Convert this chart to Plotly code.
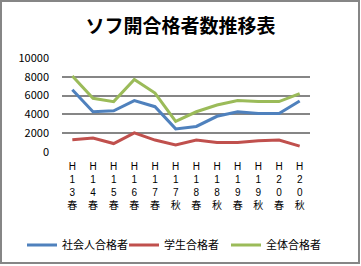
import plotly.graph_objects as go

categories = ["H13春", "H14春", "H15春", "H16春", "H17春", "H17秋",
              "H18春", "H18秋", "H19春", "H19秋", "H20春", "H20秋"]
shakaijin = [6630, 4280, 4380, 5470, 4820, 2460, 2720, 3800, 4280, 4100, 4100, 5430]
gakusei = [1300, 1490, 900, 2030, 1270, 760, 1270, 1010, 1010, 1200, 1270, 620]
zentai = [8080, 5720, 5360, 7720, 6270, 3260, 4280, 5000, 5470, 5360, 5360, 6200]
series_names = ["社会人合格者", "学生合格者", "全体合格者"]
colors = ["#4F81BD", "#C0504D", "#9BBB59"]
y_ticks = [0, 2000, 4000, 6000, 8000, 10000]
y_tick_labels = ["0", "2000", "4000", "6000", "8000", "10000"]

tick_text = ["<br>".join(list(c)) for c in categories]

fig = go.Figure()
for name, vals, col in zip(series_names, [shakaijin, gakusei, zentai], colors):
    fig.add_trace(go.Scatter(x=categories, y=vals, name=name, mode="lines",
                             line=dict(color=col, width=3)))

W, H = 361, 266
ml, mr, mt, mb = 62, 51, 58, 114
pw, ph = W - ml - mr, H - mt - mb

fig.update_layout(
    width=W, height=H,
    margin=dict(l=ml, r=mr, t=mt, b=mb, pad=0, autoexpand=False),
    paper_bgcolor="white", plot_bgcolor="white",
    font=dict(family="Noto Sans CJK JP", size=11, color="black"),
    title=dict(text="<b>ソフ開合格者数推移表</b>", x=0.5, xanchor="center",
               y=1 - 26 / H, yanchor="middle",
               font=dict(size=19, color="black", family="Noto Sans CJK JP")),
    showlegend=True,
    legend=dict(orientation="h", x=(22 - ml) / pw, xanchor="left",
                y=-(245 - (mt + ph)) / ph, yanchor="middle",
                font=dict(size=11), itemwidth=30, entrywidth=57,
                tracegroupgap=0, bgcolor="rgba(0,0,0,0)"),
    xaxis=dict(type="category", tickmode="array", tickvals=categories, ticktext=tick_text,
               showgrid=False, zeroline=False, showline=False, ticks="",
               tickangle=0, ticklabelstandoff=7,
               tickfont=dict(size=10, family="Liberation Sans, Noto Sans CJK JP"),
               automargin=False, range=[-0.5, len(categories) - 0.5]),
    yaxis=dict(range=[0, 10000], tickvals=y_ticks, ticktext=y_tick_labels, showgrid=True,
               gridcolor="#868686", gridwidth=2, zeroline=False, showline=False,
               ticks="", ticklabelstandoff=12, automargin=False,
               tickfont=dict(size=11, color="black")),
    shapes=[dict(type="rect", xref="paper", yref="paper",
                 x0=(1 - ml) / pw, x1=(359 - ml) / pw,
                 y0=(mt + ph - 263) / ph, y1=(mt + ph - 1) / ph,
                 line=dict(color="#868686", width=2), fillcolor="rgba(0,0,0,0)",
                 layer="below")],
)

fig.write_html("out.html")
